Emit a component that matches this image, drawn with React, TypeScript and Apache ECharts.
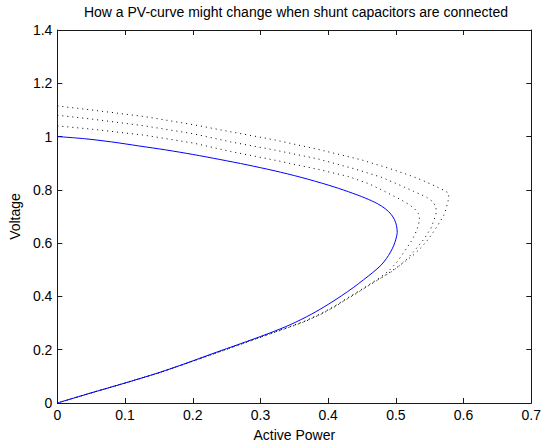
import React, { useEffect, useRef } from "react";
import * as echarts from "echarts";

const titleText = "How a PV-curve might change when shunt capacitors are connected";
const xName = "Active Power";
const yName = "Voltage";
const xTickLabels = ["0", "0.1", "0.2", "0.3", "0.4", "0.5", "0.6", "0.7"];
const yTickLabels = ["0", "0.2", "0.4", "0.6", "0.8", "1", "1.2", "1.4"];

// [active power, voltage]
const baseCurve = [
  [0, 1.0], [0.04, 0.992], [0.08, 0.98], [0.12, 0.965], [0.16, 0.95], [0.2, 0.933],
  [0.24, 0.914], [0.28, 0.894], [0.32, 0.872], [0.36, 0.847], [0.4, 0.818], [0.43, 0.793],
  [0.455, 0.769], [0.473, 0.748], [0.485, 0.728], [0.493, 0.708], [0.498, 0.688], [0.501, 0.665],
  [0.502, 0.64], [0.5, 0.615], [0.497, 0.592], [0.492, 0.566], [0.486, 0.542], [0.478, 0.517],
  [0.466, 0.49], [0.452, 0.462], [0.437, 0.433], [0.42, 0.403], [0.4, 0.37], [0.375, 0.333],
  [0.345, 0.295], [0.31, 0.259], [0.27, 0.222], [0.23, 0.186], [0.19, 0.149], [0.15, 0.114],
  [0.1, 0.075], [0.05, 0.038], [0, 0],
];

const capCurve1 = [
  [0, 1.04], [0.05, 1.028], [0.129, 1.005], [0.2, 0.976], [0.256, 0.944], [0.32, 0.912],
  [0.385, 0.877], [0.43, 0.85], [0.46, 0.823], [0.479, 0.8], [0.492, 0.783], [0.506, 0.765],
  [0.52, 0.744], [0.528, 0.728], [0.533, 0.712], [0.535, 0.69], [0.533, 0.665], [0.529, 0.638],
  [0.523, 0.608], [0.514, 0.574], [0.503, 0.533], [0.49, 0.497], [0.475, 0.468], [0.46, 0.444],
  [0.444, 0.418], [0.427, 0.392], [0.409, 0.363], [0.389, 0.335], [0.365, 0.307], [0.345, 0.288],
  [0.311, 0.258], [0.271, 0.222], [0.231, 0.185], [0.19, 0.148], [0.15, 0.113], [0.1, 0.075],
  [0.05, 0.038], [0, 0],
];

const capCurve2 = [
  [0, 1.08], [0.05, 1.066], [0.129, 1.04], [0.2, 1.011], [0.256, 0.98], [0.32, 0.95],
  [0.385, 0.916], [0.44, 0.878], [0.479, 0.847], [0.502, 0.822], [0.526, 0.795], [0.545, 0.773],
  [0.555, 0.755], [0.559, 0.736], [0.56, 0.717], [0.558, 0.699], [0.552, 0.657], [0.542, 0.617],
  [0.528, 0.573], [0.517, 0.542], [0.504, 0.512], [0.492, 0.49], [0.477, 0.468], [0.461, 0.444],
  [0.445, 0.418], [0.428, 0.392], [0.41, 0.363], [0.39, 0.335], [0.366, 0.307], [0.346, 0.288],
  [0.312, 0.258], [0.272, 0.222], [0.231, 0.185], [0.19, 0.148], [0.15, 0.113], [0.1, 0.075],
  [0.05, 0.038], [0, 0],
];

const capCurve3 = [
  [0, 1.115], [0.05, 1.1], [0.129, 1.075], [0.2, 1.045], [0.256, 1.018], [0.32, 0.988],
  [0.385, 0.952], [0.45, 0.912], [0.497, 0.875], [0.522, 0.853], [0.538, 0.837], [0.554, 0.819],
  [0.568, 0.802], [0.578, 0.788], [0.578, 0.767], [0.576, 0.748], [0.574, 0.727], [0.571, 0.705],
  [0.566, 0.684], [0.561, 0.663], [0.555, 0.64], [0.547, 0.612], [0.538, 0.585], [0.527, 0.558],
  [0.514, 0.532], [0.501, 0.508], [0.491, 0.491], [0.478, 0.469], [0.462, 0.444], [0.446, 0.418],
  [0.429, 0.392], [0.411, 0.363], [0.391, 0.335], [0.367, 0.307], [0.347, 0.288], [0.313, 0.258],
  [0.273, 0.222], [0.232, 0.185], [0.19, 0.148], [0.15, 0.113], [0.1, 0.075], [0.05, 0.038], [0, 0],
];

const FONT = "'Liberation Sans', Arial, Helvetica, sans-serif";
const AXIS_COLOR = "#1a1a1a";
const FS = 14;

export default function App() {
  const ref = useRef<HTMLDivElement>(null);
  useEffect(() => {
    if (!ref.current) return;
    const chart = echarts.init(ref.current, undefined, { renderer: "svg" });
    const axisCommon = {
      type: "value" as const,
      splitLine: { show: false },
      axisLine: { show: true, onZero: false, lineStyle: { color: AXIS_COLOR, width: 1 } },
      axisTick: { show: true, inside: true, length: 5, lineStyle: { color: AXIS_COLOR, width: 1 } },
    };
    const dotted = (data: number[][]) => ({
      type: "line" as const,
      data,
      showSymbol: false,
      symbol: "none",
      smooth: false,
      lineStyle: { color: "#000", width: 1, type: [1, 4] as any },
    });
    chart.setOption({
      animation: false,
      backgroundColor: "#fff",
      textStyle: { fontFamily: FONT },
      title: {
        text: titleText,
        left: 296,
        top: 5,
        padding: 0,
        textAlign: "center",
        textStyle: { fontSize: FS, fontWeight: "normal", color: "#000", fontFamily: FONT },
      },
      grid: { left: 57, right: 9, top: 30, bottom: 41, containLabel: false },
      xAxis: [
        {
          ...axisCommon,
          min: 0,
          max: 0.7,
          interval: 0.1,
          position: "bottom",
          name: xName,
          nameLocation: "middle",
          nameGap: 25,
          nameTextStyle: { fontSize: FS, color: "#000", fontFamily: FONT },
          axisLabel: {
            fontSize: FS,
            color: "#000",
            margin: 5,
            fontFamily: FONT,
            formatter: (v: number) => xTickLabels[Math.round(v / 0.1)] ?? "",
          },
        },
        {
          ...axisCommon,
          min: 0,
          max: 0.7,
          interval: 0.1,
          position: "top",
          axisLabel: { show: false },
        },
      ],
      yAxis: [
        {
          ...axisCommon,
          min: 0,
          max: 1.4,
          interval: 0.2,
          position: "left",
          name: yName,
          nameLocation: "middle",
          nameGap: 32,
          nameTextStyle: { fontSize: FS, color: "#000", fontFamily: FONT },
          axisLabel: {
            fontSize: FS,
            color: "#000",
            margin: 5,
            fontFamily: FONT,
            formatter: (v: number) => yTickLabels[Math.round(v / 0.2)] ?? "",
          },
        },
        {
          ...axisCommon,
          min: 0,
          max: 1.4,
          interval: 0.2,
          position: "right",
          axisLabel: { show: false },
        },
      ],
      series: [
        dotted(capCurve1),
        dotted(capCurve2),
        dotted(capCurve3),
        {
          type: "line",
          data: baseCurve,
          showSymbol: false,
          symbol: "none",
          smooth: 0.3,
          lineStyle: { color: "#0000ff", width: 1 },
        },
      ],
    });
    return () => chart.dispose();
  }, []);
  return (
    <div
      ref={ref}
      style={{ position: "absolute", left: 0, top: 0, width: 544, height: 447 }}
    />
  );
}
